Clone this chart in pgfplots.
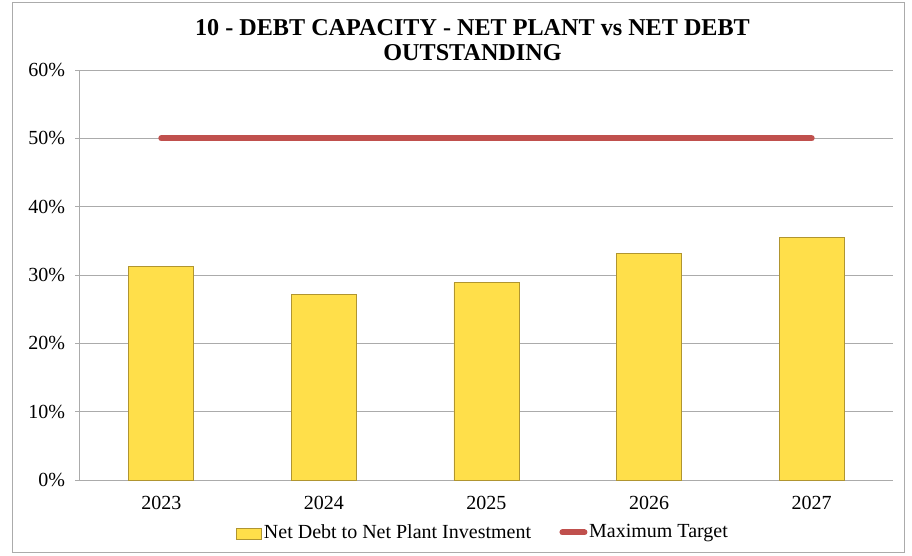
\documentclass[border=0pt]{standalone}
\usepackage{fontspec}
\setmainfont{Liberation Serif}
\usepackage{pgfplots}
\pgfplotsset{compat=1.18}
\definecolor{barfill}{HTML}{FFDF4A}
\definecolor{baredge}{HTML}{B09530}
\definecolor{redline}{HTML}{C0504D}
\definecolor{gridc}{HTML}{ABABAB}
\begin{document}
\begin{tikzpicture}
\path[use as bounding box] (0,0) rectangle (547.2pt,333pt);
\draw[gridc, line width=0.6pt] (7.2pt,1.8pt) rectangle (542.4pt,331.2pt);
\node[font=\bfseries\fontsize{14.5}{15}\selectfont, anchor=base] at (283.5pt,312pt) {10 - DEBT CAPACITY - NET PLANT vs NET DEBT};
\node[font=\bfseries\fontsize{14.5}{15}\selectfont, anchor=base] at (283.5pt,297pt) {OUTSTANDING};
\begin{axis}[
  at={(48pt,45pt)}, anchor=south west,
  width=487.8pt, height=246pt, scale only axis,
  xmin=-0.5, xmax=4.5, ymin=0, ymax=60,
  axis lines*=left,
  axis line style={gridc, line width=0.6pt},
  ytick={0,10,...,60},
  yticklabel={\pgfmathprintnumber{\tick}\%},
  ymajorgrids, grid style={gridc, line width=0.6pt},
  xtick={0,1,2,3,4},
  xticklabels={2023,2024,2025,2026,2027},
  x tick style={draw=none},
  y tick style={gridc, line width=0.6pt},
  tick align=outside, major tick length=3pt,
  extra x ticks={-0.5,0.5,1.5,2.5,3.5,4.5},
  extra x tick labels={},
  extra x tick style={grid=none, tick style={draw=gridc, line width=0.6pt}, major tick length=3pt},
  /pgf/number format/assume math mode=true,
  tick label style={font=\fontsize{12}{14}\selectfont},
  yticklabel style={xshift=-2.4pt},
  xticklabel style={yshift=-3pt},
  legend style={at={(0.4957,-0.128)}, anchor=center, draw=none, legend columns=2,
    font=\fontsize{12}{14}\selectfont, nodes={inner xsep=1pt},
    /tikz/every even column/.append style={column sep=16pt}},
  legend cell align=left,
]
\addplot[ybar, bar width=39pt, fill=barfill, draw=baredge, line width=0.5pt,
  area legend, legend image code/.code={\draw[fill=barfill, draw=baredge] (0pt,-4pt) rectangle (15pt,2.6pt);}]
  coordinates {(0,31.3) (1,27.2) (2,28.9) (3,33.1) (4,35.5)};
\addlegendentry{Net Debt to Net Plant Investment}
\addplot[redline, line width=3.6pt, line cap=round, no marks,
  legend image code/.code={\draw[redline, line width=3.6pt, line cap=round] (1.8pt,0pt) -- (15pt,0pt);}]
  coordinates {(0,50) (1,50) (2,50) (3,50) (4,50)};
\addlegendentry{Maximum Target}
\end{axis}
\end{tikzpicture}
\end{document}
